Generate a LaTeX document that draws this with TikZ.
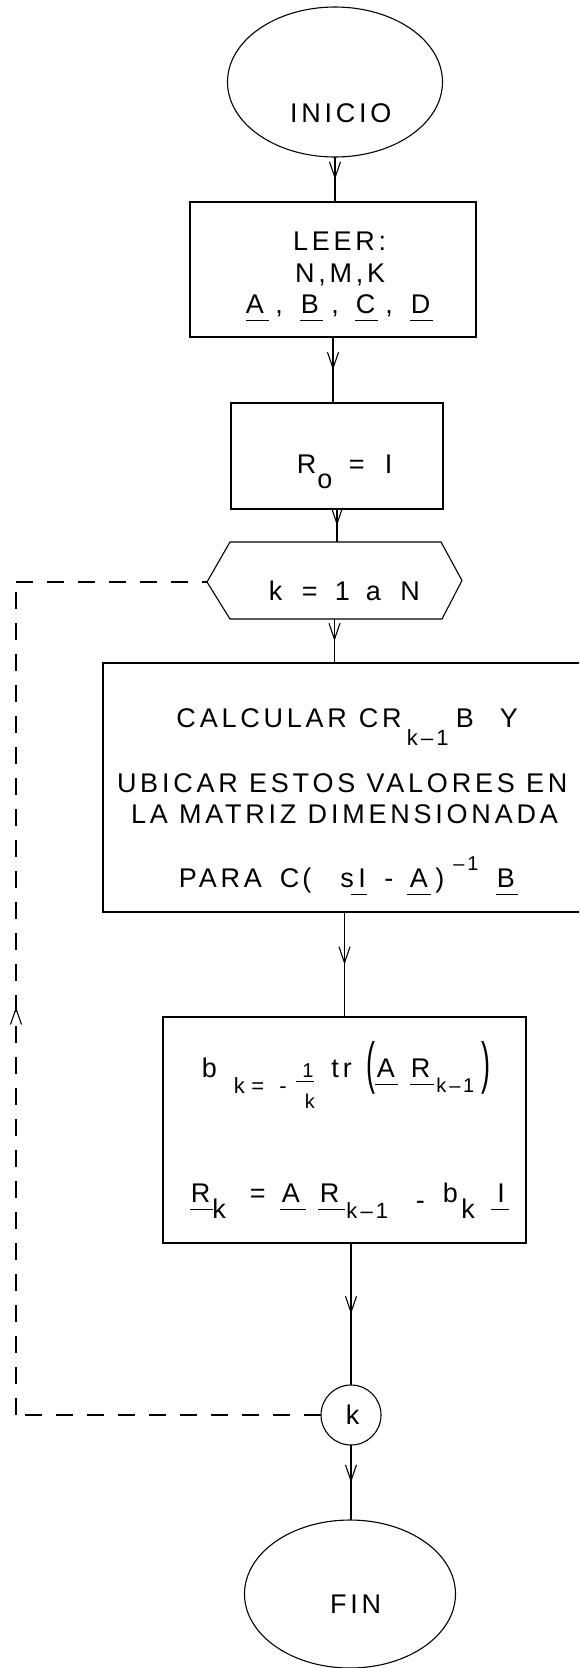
\documentclass[tikz,border=0pt]{standalone}
\usepackage{fontspec}
\setmainfont{Liberation Sans}[LetterSpace=14]
\usepackage{graphicx}
\usetikzlibrary{arrows.meta,decorations.markings,shapes.geometric}
\newcommand\at[2]{\rlap{\kern#1pt\relax#2}}
\newcommand\ulr[2]{\at{#1}{\rule[-8pt]{#2pt}{1pt}}}
\newcommand\dn[2][16pt]{\raisebox{-#1}{#2}}
\newcommand\smf{\fontsize{20}{24}\selectfont}
\newcommand\mdf{\fontsize{22}{26}\selectfont}
\newcommand\bigpar[1]{\raisebox{-5pt}{\scalebox{1}[2.1]{#1}}}
\begin{document}
\begin{tikzpicture}[x=1pt,y=-1pt,line width=1.1pt,
  shp/.style={draw,inner sep=0pt,outer sep=0pt},
  boxx/.style={shp,rectangle},
  ell/.style={shp,ellipse},
  txt/.style={inner sep=0pt,outer sep=0pt,anchor=base west,font=\fontsize{27}{32}\selectfont},
  conn/.style={postaction={decorate},decoration={markings,mark=at position 0.5 with {\arrow{Straight Barb[length=16pt,width=11pt,line width=1.1pt]}}}},
  loopline/.style={dash pattern=on 17pt off 14pt},
  upmark/.style={postaction={decorate},decoration={markings,mark=at position 0.49 with {\arrow[solid]{Straight Barb[length=16pt,width=11pt,line width=1.1pt]}}}}]
\path[use as bounding box] (0,0) rectangle (579,1668);
\fill[white] (0,0) rectangle (579,1668);
\clip (0,0) rectangle (579,1668);
% INICIO
\node[ell,minimum width=215pt,minimum height=150pt] (inicio) at (335,82) {};
\node[txt] (inicioT) at (290,122) {INICIO};
% LEER
\node[boxx,minimum width=286pt,minimum height=135pt] (leer) at (333,269.5) {};
\node[txt] (leer1) at (293,250) {LEER:};
\node[txt] (leer2) at (295,282) {N,M,K};
\node[txt] (leer3) at (0,313) {\at{245.5}{A}\at{275}{,}\at{300.5}{B}\at{331}{,}\at{355.5}{C}\at{385}{,}\at{410.5}{D}%
  \ulr{246}{23}\ulr{300}{23}\ulr{355}{23}\ulr{410}{23}};
% R0
\node[boxx,minimum width=212pt,minimum height=106pt] (r0) at (337,456) {};
\node[txt] (r0T) at (0,473) {\at{296.5}{R}\at{317}{\dn[15pt]{o}}\at{348.5}{=}\at{384.5}{I}};
% loop hexagon
\node[inner sep=0pt,outer sep=0pt,minimum width=255pt,minimum height=77pt] (loop) at (334.5,580.5) {};
\draw ([yshift=-1.5pt]loop.west) -- ([xshift=23pt]loop.north west) -- ([xshift=-21pt]loop.north east) -- (loop.east) -- ([xshift=-20pt]loop.south east) -- ([xshift=23pt]loop.south west) -- cycle;
\node[txt] (loopT) at (0,600) {\at{268.5}{k}\at{301.5}{=}\at{334.5}{1}\at{365.5}{a}\at{400}{N}};
% calc box
\node[boxx,minimum width=497pt,minimum height=249pt] (calc) at (351.5,787.5) {};
\node[txt] (c1) at (0,727) {\at{176}{CALCULAR}\at{358.5}{CR}\at{406.5}{\dn[18pt]{\mdf k–1}}\at{455.5}{B}\at{499.5}{Y}};
\node[txt] (c2) at (117,792) {UBICAR ESTOS VALORES EN};
\node[txt] (c3) at (131,823) {LA MATRIZ DIMENSIONADA};
\node[txt] (c4) at (0,887) {\at{178.5}{PARA}\at{279.5}{C}\at{302}{(}\at{340}{s}\at{358}{I}\at{384}{-}\at{409.5}{A}\at{435}{)}\at{453}{\raisebox{17pt}{\smf –1}}\at{496.5}{B}%
  \ulr{351}{16}\ulr{407}{24}\ulr{496}{22}};
% bk box
\node[boxx,minimum width=363pt,minimum height=226pt] (bk) at (344.5,1130) {};
\node[txt] (b1) at (0,1077) {\at{201.5}{b}\at{233.5}{\dn{\mdf k}}\at{251}{\dn{\mdf =}}\at{279}{\dn{\mdf -}}%
  \at{302}{\smf 1}\at{296}{\rule[-5pt]{18pt}{1pt}}\at{304.5}{\dn[31pt]{\smf k}}%
  \at{331}{tr}\at{366.5}{\bigpar{(}}\at{376.5}{A}\at{410.5}{R}\at{436}{\dn[15pt]{\smf k–1}}\at{481}{\bigpar{)}}%
  \ulr{375}{23}\ulr{410}{24}};
\node[txt] (b2) at (0,1202) {\at{190.5}{R}\at{212}{\dn{k}}\at{249.5}{=}\at{281.5}{A}\at{319.5}{R}\at{346}{\dn{\mdf k–1}}\at{415.5}{\dn[7pt]{-}}\at{442.5}{b}\at{461}{\dn{k}}\at{497}{I}%
  \ulr{190}{23}\ulr{280}{26}\ulr{318}{27}\ulr{491}{18}};
% circle k
\node[shp,circle,minimum size=60pt,font=\fontsize{27}{32}\selectfont] (kc) at (351,1415) {\kern3pt k};
% FIN
\node[ell,minimum width=211pt,minimum height=148pt] (fin) at (350,1594) {};
\node[txt] (finT) at (330,1613) {FIN};
% connectors
\draw[conn] (inicio.south) -- (inicio.south |- leer.north);
\draw[conn] (leer.south) -- (leer.south |- r0.north);
\draw[conn] (r0.south) -- (r0.south |- loop.north);
\draw[conn] (loop.south) -- (loop.south |- calc.north);
\draw[conn] (bk.north |- calc.south) -- (bk.north);
\draw[conn] (kc.north |- bk.south) -- (kc.north);
\draw[conn] (kc.south) -- (kc.south |- fin.north);
% dashed loop back
\coordinate (lx) at (16,0);
\draw[loopline] (kc.west) -- (kc.west -| lx);
\draw[loopline,upmark] (kc.west -| lx) -- ([yshift=-1.5pt]loop.west -| lx);
\draw[loopline] ([yshift=-1.5pt]loop.west -| lx) -- ([yshift=-1.5pt]loop.west);
\end{tikzpicture}
\end{document}
